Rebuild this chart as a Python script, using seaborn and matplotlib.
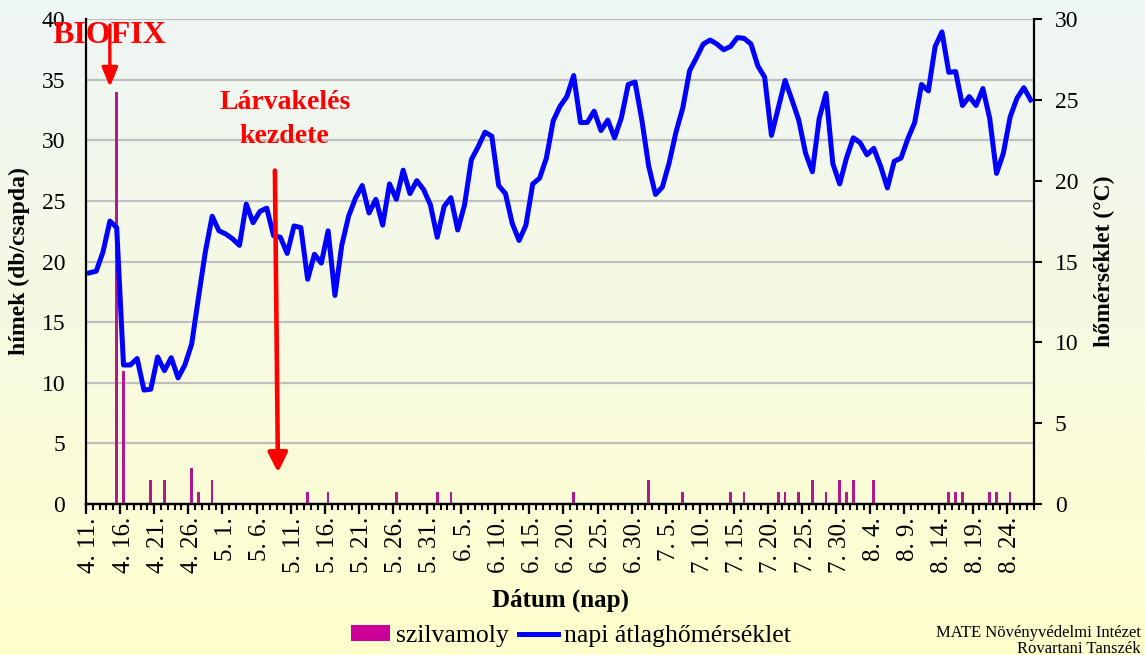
import numpy as np
import pandas as pd
import seaborn as sns
import matplotlib.pyplot as plt
from matplotlib.patches import Patch
from matplotlib.lines import Line2D

# napi átlaghőmérséklet (°C), 4.11. - 8.27.
temp = [14.3, 14.4, 15.6, 17.5, 17.1, 8.6, 8.6, 9.0, 7.05, 7.1,
        9.1, 8.25, 9.05, 7.8, 8.6, 9.9, 12.8, 15.6, 17.8, 16.9,
        16.7, 16.4, 16.0, 18.55, 17.4, 18.1, 18.3, 16.6, 16.5, 15.5,
        17.2, 17.1, 13.9, 15.45, 14.9, 16.9, 12.9, 16.0, 17.8, 18.9,
        19.7, 18.0, 18.85, 17.25, 19.8, 18.85, 20.65, 19.2, 20.0, 19.45,
        18.5, 16.5, 18.4, 18.95, 16.95, 18.5, 21.3, 22.1, 23.0, 22.75,
        19.7, 19.2, 17.35, 16.3, 17.25, 19.8, 20.15, 21.4, 23.7, 24.6,
        25.2, 26.5, 23.6, 23.6, 24.3, 23.1, 23.75, 22.65, 23.9, 25.95,
        26.1, 23.75, 20.9, 19.15, 19.6, 21.1, 23.0, 24.5, 26.8, 27.6,
        28.45, 28.7, 28.45, 28.1, 28.3, 28.85, 28.8, 28.45, 27.1, 26.4,
        22.8, 24.5, 26.2, 25.0, 23.75, 21.7, 20.55, 23.85, 25.4, 21.05,
        19.8, 21.4, 22.65, 22.35, 21.6, 22.0, 20.9, 19.55, 21.2, 21.4,
        22.6, 23.6, 25.95, 25.55, 28.3, 29.2, 26.7, 26.75, 24.65, 25.2,
        24.65, 25.7, 23.85, 20.45, 21.7, 23.95, 25.1, 25.75, 25.0]

# szilvamoly fogás (hím / csapda)
catch_dates = ["04-15", "04-16", "04-20", "04-22", "04-26", "04-27", "04-29",
               "05-13", "05-16", "05-26", "06-01", "06-03", "06-21",
               "07-02", "07-07", "07-14", "07-16", "07-21", "07-22", "07-24",
               "07-26", "07-28", "07-30", "07-31", "08-01", "08-04",
               "08-15", "08-16", "08-17", "08-21", "08-22", "08-24"]
catch_counts = [34, 11, 2, 2, 3, 1, 2,
                1, 1, 1, 1, 1, 1,
                2, 1, 1, 1, 1, 1, 1,
                2, 1, 2, 1, 2, 2,
                1, 1, 1, 1, 1, 1]

days = pd.date_range("2023-04-11", "2023-08-27")
catches = pd.Series(catch_counts, index=pd.to_datetime(["2023-" + d for d in catch_dates]))

df = pd.DataFrame({"datum": days, "homerseklet": temp})
df["nap"] = np.arange(len(df))
df["szilvamoly"] = catches.reindex(days, fill_value=0).values

tick_pos = df["nap"][::5]
tick_labels = [f"{d.month}. {d.day}." for d in df["datum"][::5]]

plt.rcParams["font.family"] = ["Liberation Serif", "DejaVu Serif"]

fig = plt.figure(figsize=(11.45, 6.55), dpi=100)

# háttér színátmenet
bg = fig.add_axes([0, 0, 1, 1], zorder=-10)
top_c = np.array([238, 245, 246]) / 255
bot_c = np.array([255, 255, 204]) / 255
t = np.linspace(0, 1, 256)[:, None]
grad = (top_c[None, :] * (1 - t) + bot_c[None, :] * t)[:, None, :]
bg.imshow(grad, aspect="auto", extent=[0, 1, 0, 1])
bg.axis("off")

ax = fig.add_axes([0.0751, 0.2305, 0.828, 0.7405])
ax.patch.set_visible(False)

sns.barplot(data=df, x="nap", y="szilvamoly", native_scale=True, width=0.38,
            color="#CC0099", linewidth=0, errorbar=None, ax=ax, zorder=2)

ax2 = ax.twinx()
sns.lineplot(data=df, x="nap", y="homerseklet", color="#0000FF", linewidth=3.6,
             legend=False, ax=ax2)

ax.set_xlim(-0.5, 138.5)
ax.set_ylim(0, 40)
ax2.set_ylim(0, 30)

ax.set_yticks(np.arange(0, 41, 5))
ax.yaxis.grid(True, color="#BFBFBF", linewidth=1.6)
ax.xaxis.grid(False)
ax.set_axisbelow(True)
ax.tick_params(axis="y", length=0, pad=15, labelsize=17)

ax.set_xticks(tick_pos, labels=tick_labels)
ax.set_xticks(np.arange(-0.5, 139, 1), minor=True)
ax.tick_params(axis="x", which="major", length=0, pad=9.5, labelsize=18, labelrotation=90)
ax.tick_params(axis="x", which="minor", length=4.5, width=1.5, direction="out")

sec = ax.secondary_xaxis("bottom")
sec.set_xticks(np.arange(-0.5, 139, 5))
sec.tick_params(length=7.5, width=1.6, labelbottom=False)
sec.spines["bottom"].set_linewidth(1.6)

ax2.set_yticks(np.arange(0, 31, 5))
ax2.tick_params(axis="y", length=6, width=1.5, pad=9, labelsize=17)

for s in ["top", "right"]:
    ax.spines[s].set_visible(False)
for s in ["top", "left", "bottom"]:
    ax2.spines[s].set_visible(False)
ax.spines["left"].set_linewidth(1.6)
ax.spines["bottom"].set_linewidth(1.6)
ax2.spines["right"].set_linewidth(1.6)

ax.set_ylabel("hímek (db/csapda)", fontsize=17, fontweight="bold")
ax.yaxis.set_label_coords(-0.059, 0.5)
ax2.set_ylabel("hőmérséklet (°C)", fontsize=17, fontweight="bold")
ax2.yaxis.set_label_coords(1.063, 0.5)
ax.set_xlabel("Dátum (nap)", fontsize=18, fontweight="bold")
ax.xaxis.set_label_coords(0.5, -0.175)

# nyilak és feliratok
ax2.annotate("", xy=(3.0, 34.4), xytext=(3.0, 39.5), xycoords=ax.transData,
             textcoords=ax.transData, annotation_clip=False,
             arrowprops=dict(arrowstyle="-|>,head_length=0.58,head_width=0.24",
                             mutation_scale=20, color="#FF0000", lw=2.4,
                             shrinkA=0, shrinkB=0))
ax2.annotate("", xy=(27.65, 2.6), xytext=(27.2, 27.5), xycoords=ax.transData,
             textcoords=ax.transData, annotation_clip=False,
             arrowprops=dict(arrowstyle="-|>,head_length=0.58,head_width=0.29",
                             mutation_scale=20, color="#FF0000", lw=3.3,
                             shrinkA=0, shrinkB=0))

fig.text(52 / 1145, 1 - 43 / 655, "BIOFIX", color="#FF0000", fontsize=23,
         fontweight="bold", ha="left", va="baseline", zorder=10)
fig.text(285 / 1145, 1 - 109 / 655, "Lárvakelés", color="#FF0000", fontsize=20,
         fontweight="bold", ha="center", va="baseline")
fig.text(284 / 1145, 1 - 143 / 655, "kezdete", color="#FF0000", fontsize=20,
         fontweight="bold", ha="center", va="baseline")

handles = [Patch(facecolor="#CC0099", edgecolor="none"),
           Line2D([], [], color="#0000FF", linewidth=3.6)]
fig.legend(handles, ["szilvamoly", "napi átlaghőmérséklet"], ncol=2, loc="center",
           bbox_to_anchor=(0.4987, 0.029), frameon=False, fontsize=18.5,
           handlelength=1.5, handleheight=0.55, handletextpad=0.25,
           columnspacing=0.4)

fig.text(1141 / 1145, 1 - 637 / 655, "MATE Növényvédelmi Intézet", fontsize=12,
         ha="right", va="baseline")
fig.text(1141 / 1145, 1 - 653 / 655, "Rovartani Tanszék", fontsize=12,
         ha="right", va="baseline")

plt.savefig("out.png", dpi=100)
